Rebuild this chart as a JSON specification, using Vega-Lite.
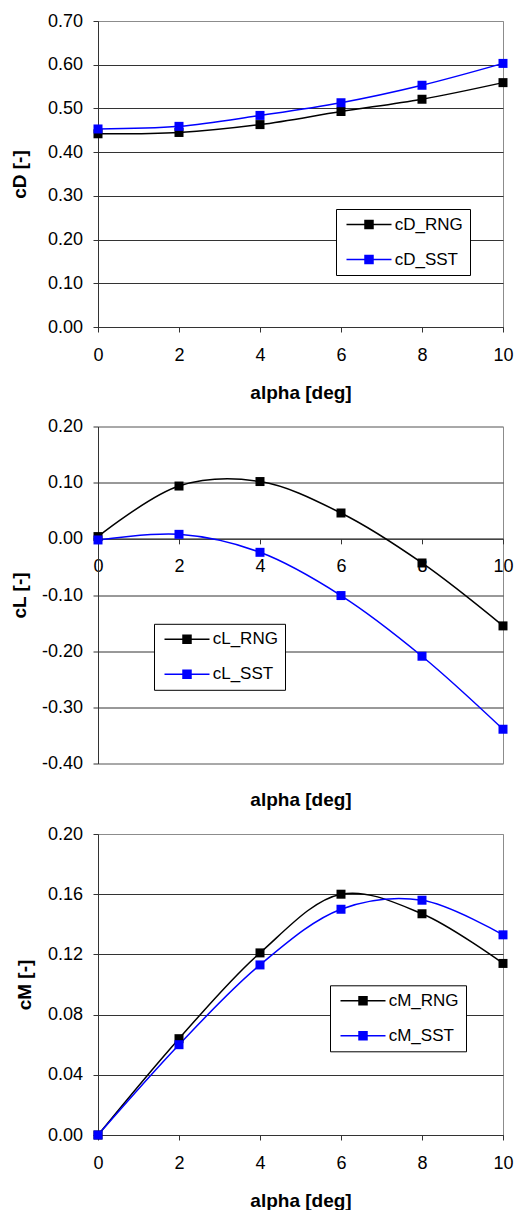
{
  "$schema": "https://vega.github.io/schema/vega-lite/v6.json",
  "background": "white",
  "padding": {"left": 9, "top": 11, "right": 0, "bottom": 0},
  "spacing": 13.5,
  "datasets": {
    "cD": [
      {"alpha": 0, "value": 0.442, "series": "cD_RNG"},
      {"alpha": 2, "value": 0.445, "series": "cD_RNG"},
      {"alpha": 4, "value": 0.463, "series": "cD_RNG"},
      {"alpha": 6, "value": 0.493, "series": "cD_RNG"},
      {"alpha": 8, "value": 0.521, "series": "cD_RNG"},
      {"alpha": 10, "value": 0.559, "series": "cD_RNG"},
      {"alpha": 0, "value": 0.453, "series": "cD_SST"},
      {"alpha": 2, "value": 0.459, "series": "cD_SST"},
      {"alpha": 4, "value": 0.484, "series": "cD_SST"},
      {"alpha": 6, "value": 0.513, "series": "cD_SST"},
      {"alpha": 8, "value": 0.553, "series": "cD_SST"},
      {"alpha": 10, "value": 0.603, "series": "cD_SST"}
    ],
    "cL": [
      {"alpha": 0, "value": 0.004, "series": "cL_RNG"},
      {"alpha": 2, "value": 0.094, "series": "cL_RNG"},
      {"alpha": 4, "value": 0.102, "series": "cL_RNG"},
      {"alpha": 6, "value": 0.046, "series": "cL_RNG"},
      {"alpha": 8, "value": -0.043, "series": "cL_RNG"},
      {"alpha": 10, "value": -0.155, "series": "cL_RNG"},
      {"alpha": 0, "value": -0.002, "series": "cL_SST"},
      {"alpha": 2, "value": 0.008, "series": "cL_SST"},
      {"alpha": 4, "value": -0.024, "series": "cL_SST"},
      {"alpha": 6, "value": -0.101, "series": "cL_SST"},
      {"alpha": 8, "value": -0.209, "series": "cL_SST"},
      {"alpha": 10, "value": -0.339, "series": "cL_SST"}
    ],
    "cM": [
      {"alpha": 0, "value": 0.0, "series": "cM_RNG"},
      {"alpha": 2, "value": 0.064, "series": "cM_RNG"},
      {"alpha": 4, "value": 0.121, "series": "cM_RNG"},
      {"alpha": 6, "value": 0.160, "series": "cM_RNG"},
      {"alpha": 8, "value": 0.147, "series": "cM_RNG"},
      {"alpha": 10, "value": 0.114, "series": "cM_RNG"},
      {"alpha": 0, "value": 0.0, "series": "cM_SST"},
      {"alpha": 2, "value": 0.060, "series": "cM_SST"},
      {"alpha": 4, "value": 0.113, "series": "cM_SST"},
      {"alpha": 6, "value": 0.150, "series": "cM_SST"},
      {"alpha": 8, "value": 0.156, "series": "cM_SST"},
      {"alpha": 10, "value": 0.133, "series": "cM_SST"}
    ]
  },
  "config": {
    "font": "Liberation Sans",
    "view": {"stroke": "#8c8c8c", "strokeWidth": 1},
    "axis": {
      "labelFont": "Liberation Sans", "labelFontSize": 18, "labelColor": "#000000",
      "titleFont": "Liberation Sans", "titleFontSize": 19, "titleFontWeight": "bold", "titleColor": "#000000",
      "domainColor": "#333333", "tickColor": "#333333", "gridColor": "#333333",
      "tickSize": 5, "domainWidth": 1, "gridWidth": 1, "tickWidth": 1
    },
    "legend": {
      "orient": "none", "title": null,
      "symbolType": "M-4.5,0H4.5M-0.8,-0.8H0.8V0.8H-0.8Z",
      "symbolSize": 100, "symbolStrokeWidth": 1.5, "symbolOffset": 17.5,
      "labelOffset": 17.2, "padding": 7, "rowPadding": 17,
      "strokeColor": "#000000", "fillColor": "#ffffff",
      "labelFont": "Liberation Sans", "labelFontSize": 17, "labelColor": "#000000"
    }
  },
  "resolve": {"scale": {"color": "independent"}, "legend": {"color": "independent"}},
  "vconcat": [
    {
      "width": 405, "height": 306,
      "data": {"name": "cD"},
      "encoding": {
        "x": {"field": "alpha", "type": "quantitative", "scale": {"domain": [0, 10], "nice": false},
          "axis": {"values": [0, 2, 4, 6, 8, 10], "grid": false, "title": "alpha [deg]", "labelPadding": 14, "titleY": 56, "labelFlush": false}},
        "y": {"field": "value", "type": "quantitative", "scale": {"domain": [0, 0.7], "nice": false, "zero": false},
          "axis": {"values": [0, 0.1, 0.2, 0.3, 0.4, 0.5, 0.6, 0.7], "format": ".2f", "title": "cD [-]", "titleX": -68.6, "labelPadding": 10.5,
            "gridColor": {"condition": {"test": "datum.value > 0.69", "value": "#8c8c8c"}, "value": "#333333"}}}
      },
      "layer": [
        {"mark": {"type": "line", "interpolate": "catmull-rom", "strokeWidth": 1.5},
          "encoding": {"color": {"field": "series", "type": "nominal", "scale": {"domain": ["cD_RNG", "cD_SST"], "range": ["#000000", "#0000ff"]},
            "legend": {"legendX": 238, "legendY": 188, "encode": {"symbols": {"update": {"fill": {"signal": "indexof(datum.value, 'SST') >= 0 ? '#0000ff' : '#000000'"}, "stroke": {"signal": "indexof(datum.value, 'SST') >= 0 ? '#0000ff' : '#000000'"}, "opacity": {"value": 1}}}}}}}},
        {"mark": {"type": "point", "shape": "square", "filled": true, "size": 81, "opacity": 1},
          "encoding": {"color": {"field": "series", "type": "nominal", "scale": {"domain": ["cD_RNG", "cD_SST"], "range": ["#000000", "#0000ff"]},
            "legend": {"legendX": 238, "legendY": 188, "encode": {"symbols": {"update": {"fill": {"signal": "indexof(datum.value, 'SST') >= 0 ? '#0000ff' : '#000000'"}, "stroke": {"signal": "indexof(datum.value, 'SST') >= 0 ? '#0000ff' : '#000000'"}, "opacity": {"value": 1}}}}}}}}
      ]
    },
    {
      "width": 405, "height": 337,
      "data": {"name": "cL"},
      "encoding": {
        "x": {"field": "alpha", "type": "quantitative", "scale": {"domain": [0, 10], "nice": false},
          "axis": {"values": [0, 2, 4, 6, 8, 10], "grid": false, "title": "alpha [deg]", "offset": -224.67, "labelPadding": 14, "titleY": 252, "labelFlush": false}},
        "y": {"field": "value", "type": "quantitative", "scale": {"domain": [-0.4, 0.2], "nice": false, "zero": false},
          "axis": {"values": [-0.4, -0.3, -0.2, -0.1, 0, 0.1, 0.2], "labelExpr": "replace(format(datum.value, '.2f'), '\u2212', '-')", "title": "cL [-]", "titleX": -68.6, "labelPadding": 10.5,
            "gridColor": {"condition": {"test": "datum.value > 0.19 || datum.value < -0.39", "value": "#8c8c8c"}, "value": "#333333"}}}
      },
      "layer": [
        {"mark": {"type": "line", "interpolate": "catmull-rom", "strokeWidth": 1.5},
          "encoding": {"color": {"field": "series", "type": "nominal", "scale": {"domain": ["cL_RNG", "cL_SST"], "range": ["#000000", "#0000ff"]},
            "legend": {"legendX": 56, "legendY": 197.3, "encode": {"symbols": {"update": {"fill": {"signal": "indexof(datum.value, 'SST') >= 0 ? '#0000ff' : '#000000'"}, "stroke": {"signal": "indexof(datum.value, 'SST') >= 0 ? '#0000ff' : '#000000'"}, "opacity": {"value": 1}}}}}}}},
        {"mark": {"type": "point", "shape": "square", "filled": true, "size": 81, "opacity": 1},
          "encoding": {"color": {"field": "series", "type": "nominal", "scale": {"domain": ["cL_RNG", "cL_SST"], "range": ["#000000", "#0000ff"]},
            "legend": {"legendX": 56, "legendY": 197.3, "encode": {"symbols": {"update": {"fill": {"signal": "indexof(datum.value, 'SST') >= 0 ? '#0000ff' : '#000000'"}, "stroke": {"signal": "indexof(datum.value, 'SST') >= 0 ? '#0000ff' : '#000000'"}, "opacity": {"value": 1}}}}}}}}
      ]
    },
    {
      "width": 405, "height": 301,
      "data": {"name": "cM"},
      "encoding": {
        "x": {"field": "alpha", "type": "quantitative", "scale": {"domain": [0, 10], "nice": false},
          "axis": {"values": [0, 2, 4, 6, 8, 10], "grid": false, "title": "alpha [deg]", "labelPadding": 14, "titleY": 56, "labelFlush": false}},
        "y": {"field": "value", "type": "quantitative", "scale": {"domain": [0, 0.2], "nice": false, "zero": false},
          "axis": {"values": [0, 0.04, 0.08, 0.12, 0.16, 0.2], "format": ".2f", "title": "cM [-]", "titleX": -63.6, "labelPadding": 10.5,
            "gridColor": {"condition": {"test": "datum.value > 0.19", "value": "#8c8c8c"}, "value": "#333333"}}}
      },
      "layer": [
        {"mark": {"type": "line", "interpolate": "catmull-rom", "strokeWidth": 1.5},
          "encoding": {"color": {"field": "series", "type": "nominal", "scale": {"domain": ["cM_RNG", "cM_SST"], "range": ["#000000", "#0000ff"]},
            "legend": {"legendX": 232, "legendY": 151.3, "encode": {"symbols": {"update": {"fill": {"signal": "indexof(datum.value, 'SST') >= 0 ? '#0000ff' : '#000000'"}, "stroke": {"signal": "indexof(datum.value, 'SST') >= 0 ? '#0000ff' : '#000000'"}, "opacity": {"value": 1}}}}}}}},
        {"mark": {"type": "point", "shape": "square", "filled": true, "size": 81, "opacity": 1},
          "encoding": {"color": {"field": "series", "type": "nominal", "scale": {"domain": ["cM_RNG", "cM_SST"], "range": ["#000000", "#0000ff"]},
            "legend": {"legendX": 232, "legendY": 151.3, "encode": {"symbols": {"update": {"fill": {"signal": "indexof(datum.value, 'SST') >= 0 ? '#0000ff' : '#000000'"}, "stroke": {"signal": "indexof(datum.value, 'SST') >= 0 ? '#0000ff' : '#000000'"}, "opacity": {"value": 1}}}}}}}}
      ]
    }
  ]
}
